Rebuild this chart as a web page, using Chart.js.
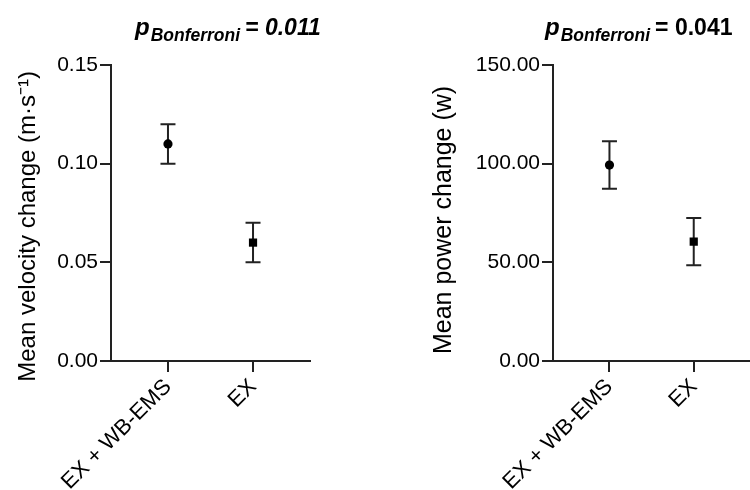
<!DOCTYPE html>
<html>
<head>
<meta charset="utf-8">
<script src="https://cdn.jsdelivr.net/npm/chart.js@4.4.1/dist/chart.umd.min.js"></script>
<style>
  body { margin: 0; background: #fff; overflow: hidden; }
  #wrap { position: relative; width: 750px; height: 490px; overflow: hidden; }
  .panel { position: absolute; top: 0; height: 490px; }
</style>
</head>
<body>
<div id="wrap">
  <div class="panel" style="left:0; width:330px;"><canvas id="velocity"></canvas></div>
  <div class="panel" style="left:400px; width:356px;"><canvas id="power"></canvas></div>
</div>
<script>
const categories = ['EX + WB-EMS', 'EX'];
const pointStyles = ['circle', 'rect'];

const velocityMean = [0.11, 0.06];
const velocityErr = [0.01, 0.01];
const velocityTicks = [0, 0.05, 0.10, 0.15];

const powerMean = [99.3, 60.5];
const powerErr = [12, 12];
const powerTicks = [0, 50, 100, 150];

const FONT = "'Liberation Sans', Arial, sans-serif";
const INK = '#222';

// vertical error bars with caps, drawn under the markers
const errorBars = {
    id: 'errorBars',
    beforeDatasetsDraw(chart, args, opts) {
        const ctx = chart.ctx;
        const x = chart.scales.x, y = chart.scales.y;
        ctx.save();
        ctx.strokeStyle = INK;
        ctx.lineWidth = 2;
        chart.data.datasets[0].data.forEach((p, i) => {
            const px = x.getPixelForValue(p.x);
            const top = y.getPixelForValue(p.y + opts.err[i]);
            const bot = y.getPixelForValue(p.y - opts.err[i]);
            ctx.beginPath();
            ctx.moveTo(px, top); ctx.lineTo(px, bot);
            ctx.moveTo(px - 7.5, top); ctx.lineTo(px + 7.5, top);
            ctx.moveTo(px - 7.5, bot); ctx.lineTo(px + 7.5, bot);
            ctx.stroke();
        });
        ctx.restore();
    }
};

// "p_Bonferroni = value" heading with a subscript
const pTitle = {
    id: 'pTitle',
    afterDraw(chart, args, opts) {
        const ctx = chart.ctx;
        ctx.save();
        ctx.fillStyle = '#000';
        ctx.textBaseline = 'alphabetic';
        let x = opts.x;
        const base = 35;
        ctx.font = 'italic bold 24px ' + FONT;
        ctx.fillText('p', x, base);
        x += ctx.measureText('p').width + 1;
        ctx.font = 'italic bold 17.5px ' + FONT;
        ctx.fillText('Bonferroni', x, base + 6);
        x += ctx.measureText('Bonferroni').width + 5;
        ctx.font = (opts.italicValue ? 'italic ' : '') + 'bold 23px ' + FONT;
        ctx.fillText('= ' + opts.value, x, base);
        ctx.restore();
    }
};

function makeChart(id, means, errs, ticks, yTitle, titleSize, decimals, yWidth, titlePad, padRight, pOpts) {
    const ctx = document.getElementById(id).getContext('2d');
    return new Chart(ctx, {
        type: 'scatter',
        data: {
            datasets: [{
                data: means.map((m, i) => ({ x: i, y: m })),
                pointStyle: pointStyles,
                pointRadius: [4.6, 5.8],
                pointHoverRadius: [4.6, 5.8],
                backgroundColor: '#000',
                borderColor: '#000',
                borderWidth: 0,
                showLine: false
            }]
        },
        plugins: [errorBars, pTitle],
        options: {
            responsive: true,
            maintainAspectRatio: false,
            animation: false,
            layout: { padding: { top: 65, right: padRight, left: 0, bottom: 0 } },
            plugins: {
                legend: { display: false },
                tooltip: { enabled: false },
                errorBars: { err: errs },
                pTitle: pOpts
            },
            scales: {
                x: {
                    type: 'linear',
                    min: -0.67,
                    max: 1.67,
                    afterBuildTicks: s => { s.ticks = categories.map((c, i) => ({ value: i })); },
                    afterFit: s => { s.height = 129; },
                    grid: { drawOnChartArea: false, drawTicks: true, tickLength: 11, color: INK, lineWidth: 2 },
                    border: { display: true, color: INK, width: 2 },
                    ticks: {
                        minRotation: 45,
                        maxRotation: 45,
                        padding: 2,
                        color: '#000',
                        font: { family: FONT, size: 22 },
                        callback: v => categories[v]
                    }
                },
                y: {
                    min: ticks[0],
                    max: ticks[ticks.length - 1],
                    afterBuildTicks: s => { s.ticks = ticks.map(v => ({ value: v })); },
                    afterFit: s => { s.width = yWidth; },
                    grid: { drawOnChartArea: false, drawTicks: true, tickLength: 11, color: INK, lineWidth: 2 },
                    border: { display: true, color: INK, width: 2 },
                    ticks: {
                        padding: 2,
                        color: '#000',
                        font: { family: FONT, size: 21 },
                        callback: v => v.toFixed(decimals)
                    },
                    title: {
                        display: true,
                        text: yTitle,
                        color: '#000',
                        padding: { top: titlePad, bottom: 0 },
                        font: { family: FONT, size: titleSize }
                    }
                }
            }
        }
    });
}

// trailing spaces nudge the rotated axis titles down a little, as in the original
makeChart('velocity', velocityMean, velocityErr, velocityTicks,
    'Mean velocity change (m\u00b7s\u207b\u00b9)    ', 24, 2, 111, 14, 20,
    { x: 135, value: '0.011', italicValue: true });

makeChart('power', powerMean, powerErr, powerTicks,
    'Mean power change (w)  ', 25, 2, 153, 29, 0,
    { x: 145, value: '0.041', italicValue: false });
</script>
</body>
</html>
